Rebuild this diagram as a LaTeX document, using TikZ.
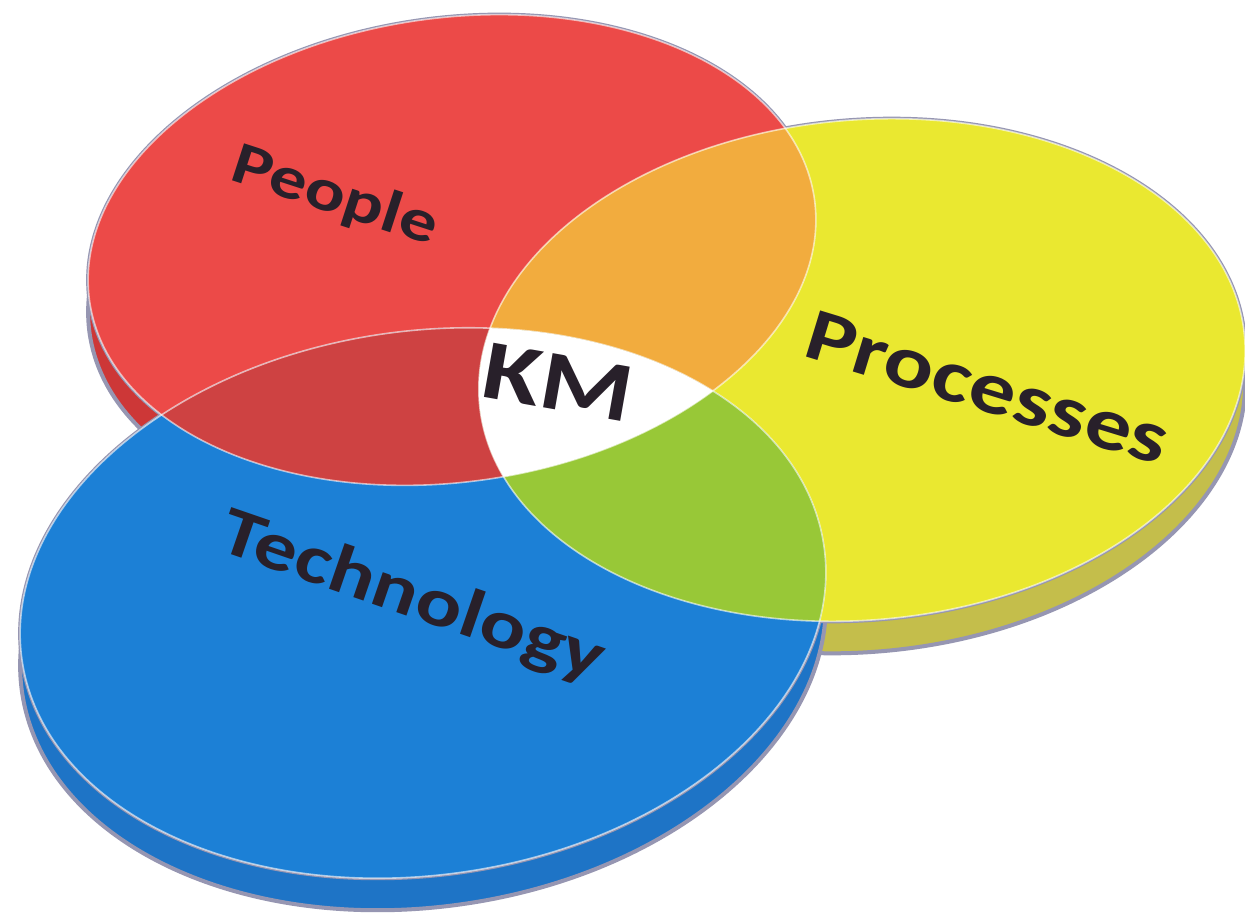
\documentclass[tikz,border=0pt]{standalone}
\usepackage{fontspec}
\setmainfont{Carlito}
\usepackage{graphicx}

\definecolor{faceRed}{RGB}{236,74,72}
\definecolor{sideRed}{RGB}{205,55,55}
\definecolor{faceYellow}{RGB}{234,232,48}
\definecolor{sideYellow}{RGB}{196,190,75}
\definecolor{faceBlue}{RGB}{28,128,214}
\definecolor{sideBlue}{RGB}{30,116,198}
\definecolor{mixOrange}{RGB}{242,172,62}
\definecolor{mixDarkRed}{RGB}{206,66,66}
\definecolor{mixGreen}{RGB}{152,200,55}
\definecolor{rimGray}{RGB}{150,150,178}
\definecolor{labelInk}{RGB}{40,32,42}

% the three disks (top faces)
\newcommand{\redDisk}{(452,250) ellipse [x radius=366, y radius=232]}
\newcommand{\yellowDisk}{(862,370) ellipse [x radius=384, y radius=250]}
\newcommand{\blueDisk}{(423,603) ellipse [x radius=405, y radius=272]}
\newcommand{\disklabel}[1]{\scalebox{1}[0.8]{#1}}

\begin{document}
\begin{tikzpicture}[x=1pt, y=-1pt,
    redrot/.style={rotate around={8:(452,250)}},
    yelrot/.style={rotate around={5:(862,370)}},
    bluerot/.style={rotate around={8:(423,603)}},
    thickness/.style={shift={(0,32)}},
    rim/.style={draw=rimGray, line width=4pt},
    edge/.style={draw=white, draw opacity=0.6, line width=1.6pt},
    label/.style={text=labelInk, font=\bfseries}
]
\useasboundingbox (0,0) rectangle (1245,917);
\fill[white] (0,0) rectangle (1245,917);

% Sides of the disks
\filldraw[rim, fill=sideRed, thickness, redrot] \redDisk;
\filldraw[rim, fill=sideYellow, thickness, yelrot] \yellowDisk;
\filldraw[rim, fill=sideBlue, thickness, bluerot] \blueDisk;
\draw[rim, redrot] \redDisk;
\draw[rim, yelrot] \yellowDisk;
\draw[rim, bluerot] \blueDisk;

% Top faces
\fill[faceRed, redrot] \redDisk;
\fill[faceYellow, yelrot] \yellowDisk;
\fill[faceBlue, bluerot] \blueDisk;

% Overlaps
\begin{scope}
    \clip[redrot] \redDisk;
    \fill[mixOrange, yelrot] \yellowDisk;
    \fill[mixDarkRed, bluerot] \blueDisk;
\end{scope}
\begin{scope}
    \clip[yelrot] \yellowDisk;
    \fill[mixGreen, bluerot] \blueDisk;
    \clip[redrot] \redDisk;
    \fill[white, bluerot] \blueDisk;
\end{scope}

% Light edges of the faces
\draw[edge, redrot] \redDisk;
\draw[edge, yelrot] \yellowDisk;
\draw[edge, bluerot] \blueDisk;

% Labels
\node[label, rotate=-18] (people) at (335,197) {\fontsize{75}{80}\selectfont\disklabel{People}};
\node[label, rotate=-17] (processes) at (988,388) {\fontsize{93}{98}\selectfont\disklabel{Processes}};
\node[label, rotate=-19] (technology) at (412,598) {\fontsize{86}{90}\selectfont\disklabel{Technology}};
\node[label, rotate=-10] (km) at (558,382) {\fontsize{106}{110}\selectfont\disklabel{KM}};

\end{tikzpicture}
\end{document}
